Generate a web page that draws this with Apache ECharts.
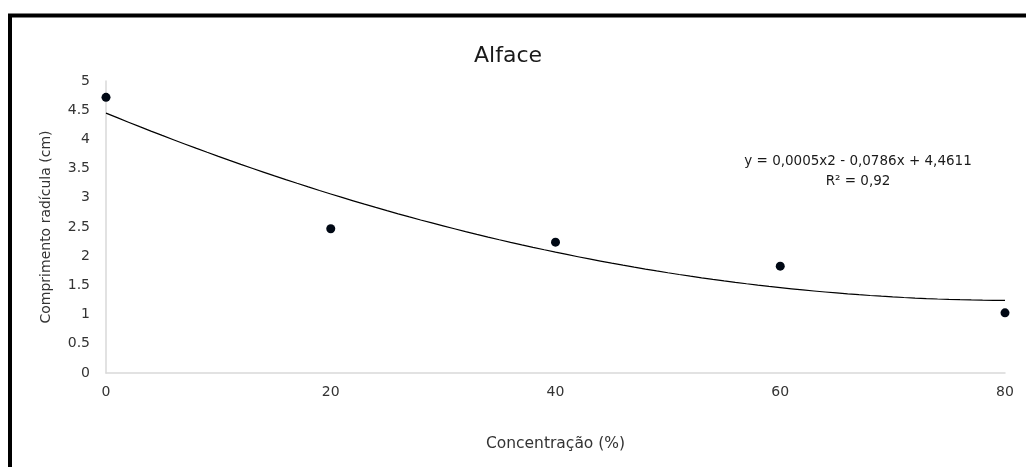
<!DOCTYPE html>
<html><head><meta charset="utf-8">
<script src="https://cdn.jsdelivr.net/npm/echarts@6/dist/echarts.min.js"></script>
<style>html,body{margin:0;padding:0;background:#fff}#c{width:1026px;height:467px}</style>
</head><body><div id="c"></div>
<script>
const concentrations = [0, 20, 40, 60, 80];
const rootLength = [4.72, 2.47, 2.24, 1.83, 1.03];
const equationText = ['y = 0,0005x2 - 0,0786x + 4,4611', 'R² = 0,92'];

// least-squares quadratic trend fitted to the data
function quadFit(xs, ys) {
  let n = xs.length, S = [0,0,0,0,0], T = [0,0,0];
  for (let i = 0; i < n; i++) {
    let p = 1;
    for (let k = 0; k < 5; k++) { S[k] += p; if (k < 3) T[k] += p * ys[i]; p *= xs[i]; }
  }
  const A = [[S[0],S[1],S[2],T[0]],[S[1],S[2],S[3],T[1]],[S[2],S[3],S[4],T[2]]];
  for (let i = 0; i < 3; i++) {
    for (let j = i + 1; j < 3; j++) {
      const f = A[j][i] / A[i][i];
      for (let k = i; k < 4; k++) A[j][k] -= f * A[i][k];
    }
  }
  const c = [0,0,0];
  for (let i = 2; i >= 0; i--) {
    let s = A[i][3];
    for (let k = i + 1; k < 3; k++) s -= A[i][k] * c[k];
    c[i] = s / A[i][i];
  }
  return c;
}
const coef = quadFit(concentrations, rootLength);
const trend = [];
for (let x = 0; x <= 80; x += 1) trend.push([x, coef[0] + coef[1] * x + coef[2] * x * x]);

const font = 'DejaVu Sans';
const chart = echarts.init(document.getElementById('c'));
chart.setOption({
  animation: false,
  title: { text: 'Alface', left: 503, top: 40, textAlign: 'center',
    textStyle: { fontFamily: font, fontSize: 22, fontWeight: 'normal', color: '#1a1a1a' } },
  grid: { left: 106, right: 21, top: 81, bottom: 94 },
  xAxis: { type: 'value', min: 0, max: 80, interval: 20,
    name: 'Concentração (%)', nameLocation: 'middle', nameGap: 63,
    nameTextStyle: { fontFamily: font, fontSize: 15.5, color: '#333' },
    axisLine: { lineStyle: { color: '#d9d9d9', width: 1.5 } },
    axisTick: { show: false }, splitLine: { show: false },
    axisLabel: { fontFamily: font, fontSize: 14, color: '#333', margin: 12 } },
  yAxis: { type: 'value', min: 0, max: 5, interval: 0.5,
    name: 'Comprimento radícula (cm)', nameLocation: 'middle', nameGap: 53,
    nameTextStyle: { fontFamily: font, fontSize: 14, color: '#333' },
    axisLine: { show: true, lineStyle: { color: '#d9d9d9', width: 1.5 } },
    axisTick: { show: false }, splitLine: { show: false },
    axisLabel: { fontFamily: font, fontSize: 14, color: '#333', margin: 16 } },
  graphic: [
    { type: 'rect', shape: { x: 10, y: 15.5, width: 1100, height: 600 },
      style: { fill: 'none', stroke: '#000', lineWidth: 4 } },
    { type: 'text', x: 858, y: 161, style: { text: equationText[0], fontFamily: font, fontSize: 13.5,
      fill: '#1a1a1a', align: 'center', verticalAlign: 'middle' } },
    { type: 'text', x: 858, y: 181, style: { text: equationText[1], fontFamily: font, fontSize: 13.5,
      fill: '#1a1a1a', align: 'center', verticalAlign: 'middle' } }
  ],
  series: [
    { type: 'line', data: trend, showSymbol: false, smooth: false,
      lineStyle: { color: '#000', width: 1.2 }, z: 2 },
    { type: 'scatter', data: concentrations.map((x, i) => [x, rootLength[i]]),
      symbolSize: 9, itemStyle: { color: '#000814', opacity: 1 }, z: 3 }
  ]
});
</script></body></html>
